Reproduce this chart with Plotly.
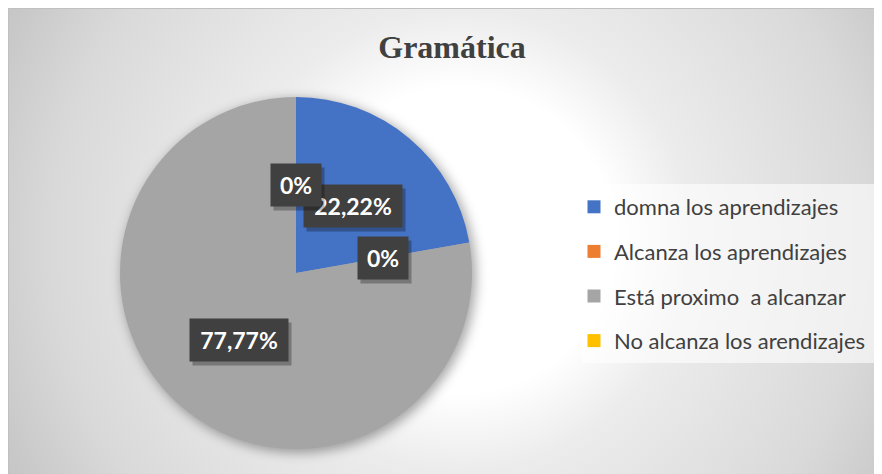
import math
import base64
import plotly.graph_objects as go

# ---------------- data ----------------
categories = ["domna los aprendizajes", "Alcanza los aprendizajes",
              "Está proximo  a alcanzar", "No alcanza los arendizajes"]
values = [22.22, 0, 77.77, 0]
colors = ["#4472C4", "#ED7D31", "#A5A5A5", "#FFC000"]
title_text = "Gramática"

# ---------------- geometry / style ----------------
W, H = 882, 474
OX, OY = 8, 8            # page offset of the figure (body margin)
PIE_L, PIE_R, PIE_T, PIE_B = 120 - OX, 472 - OX, 97 - OY, 449 - OY   # pie domain (px)
cx, cy = (PIE_L + PIE_R) / 2, (PIE_T + PIE_B) / 2
rad = min(PIE_R - PIE_L, PIE_B - PIE_T) / 2


def fmt(v):
    return "0%" if v == 0 else f"{v:.2f}".replace(".", ",") + "%"


# background svg: radial gradient frame + pie shadow + legend box
svg = f'''<svg xmlns="http://www.w3.org/2000/svg" width="{W}" height="{H}" viewBox="0 0 {W} {H}">
<defs>
<radialGradient id="g" gradientUnits="userSpaceOnUse" cx="{460-OX}" cy="{240-OY}" r="510">
<stop offset="0" stop-color="#ffffff"/>
<stop offset="0.30" stop-color="#ffffff"/>
<stop offset="0.45" stop-color="#ececec"/>
<stop offset="0.80" stop-color="#d9d9d9"/>
<stop offset="0.90" stop-color="#cfcfcf"/>
<stop offset="1" stop-color="#c5c5c5"/>
</radialGradient>
<filter id="b" x="-30%" y="-30%" width="160%" height="160%"><feGaussianBlur stdDeviation="6"/></filter>
</defs>
<rect x="0" y="0" width="{W}" height="{H}" fill="url(#g)"/>
<line x1="0" y1="0.5" x2="{W}" y2="0.5" stroke="#c0c0c0" stroke-width="1"/>
<line x1="0.5" y1="0" x2="0.5" y2="{H}" stroke="#c0c0c0" stroke-width="1"/>
<circle cx="{cx+3}" cy="{cy+3}" r="{rad+1}" fill="#000000" fill-opacity="0.35" filter="url(#b)"/>
<rect x="{582-OX}" y="{184-OY}" width="295" height="179" fill="#ffffff" fill-opacity="0.6"/>
</svg>'''
svg_uri = "data:image/svg+xml;base64," + base64.b64encode(svg.encode()).decode()

fig = go.Figure()
fig.add_trace(go.Pie(
    labels=categories, values=values,
    marker=dict(colors=colors, line=dict(width=0)),
    sort=False, direction="clockwise", rotation=0,
    textinfo="none", showlegend=False, hoverinfo="label+percent",
    domain=dict(x=[PIE_L / W, PIE_R / W], y=[1 - PIE_B / H, 1 - PIE_T / H]),
))

# legend entries (separate groups for spacing)
for i, (c, col) in enumerate(zip(categories, colors)):
    fig.add_trace(go.Scatter(
        x=[None], y=[None], mode="markers", name=c,
        marker=dict(symbol="square", size=13, color=col),
        legendgroup=f"g{i}", showlegend=True, hoverinfo="skip",
    ))

# data labels computed from values
annotations = []
total = sum(values)
cum = 0.0
for v in values:
    mid = (cum + v / 2) / total * 2 * math.pi
    cum += v
    lx = cx + 0.5 * rad * math.sin(mid)
    ly = cy - 0.5 * rad * math.cos(mid)
    txt = fmt(v)
    bw = 26 + 12 * len(txt)
    common = dict(x=lx / W, y=1 - ly / H, xref="paper", yref="paper",
                  showarrow=False, width=bw, height=42, borderpad=0,
                  xanchor="center", yanchor="middle", align="center", valign="middle")
    annotations.append(dict(text="&nbsp;", bgcolor="rgba(0,0,0,0.28)",
                            font=dict(family="Lato", size=23, color="rgba(0,0,0,0)"),
                            xshift=3, yshift=-4, **common))
    annotations.append(dict(text=f"<b>{txt}</b>", bgcolor="#404040",
                            font=dict(family="Lato", size=23, color="#ffffff"), **common))

fig.update_layout(
    width=W, height=H,
    margin=dict(l=0, r=0, t=0, b=0),
    paper_bgcolor="#ffffff", plot_bgcolor="rgba(0,0,0,0)",
    xaxis=dict(visible=False), yaxis=dict(visible=False),
    title=dict(text=f"<b>{title_text}</b>", x=(452 - OX) / W, xanchor="center",
               y=1 - (47 - OY) / H, yanchor="middle",
               font=dict(family="Liberation Serif", size=32, color="#404040")),
    legend=dict(x=(574 - OX) / W, y=1 - (186 - OY) / H, xanchor="left", yanchor="top",
                bgcolor="rgba(0,0,0,0)", borderwidth=0,
                font=dict(family="Lato", size=22, color="#404040"),
                tracegroupgap=13, itemclick=False, itemdoubleclick=False),
    annotations=annotations,
    images=[dict(source=svg_uri, xref="paper", yref="paper", x=0, y=1,
                 sizex=1, sizey=1, xanchor="left", yanchor="top",
                 sizing="stretch", layer="below")],
    showlegend=True,
)

fig.write_html("out.html")
